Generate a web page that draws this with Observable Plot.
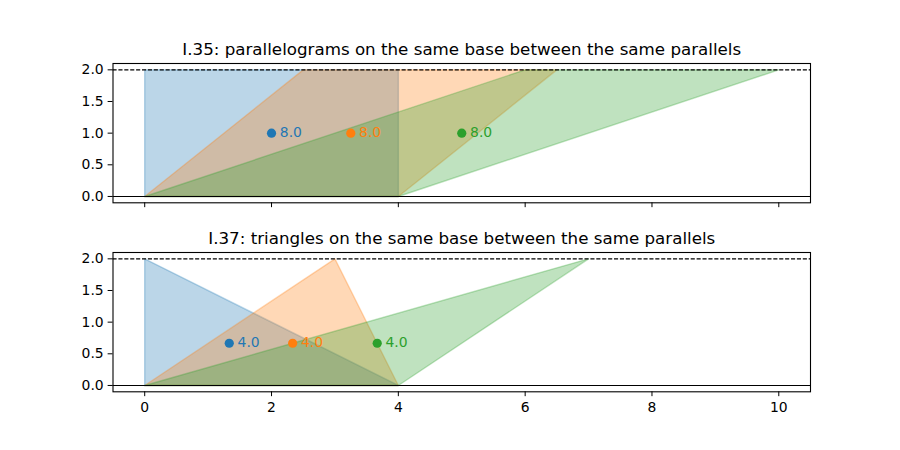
<!DOCTYPE html>
<html>
<head>
<meta charset="utf-8">
<script src="https://cdn.jsdelivr.net/npm/d3@7"></script>
<script src="https://cdn.jsdelivr.net/npm/@observablehq/plot@0.6"></script>
<style>
  html, body { margin: 0; padding: 0; background: #fff; }
  #wrap { position: relative; width: 900px; height: 450px; overflow: hidden; }
  #wrap svg { position: absolute; left: 0; font-family: "DejaVu Sans", sans-serif; }
</style>
</head>
<body>
<div id="wrap"></div>
<script>
// ---- data ----
const colors = ["#1f77b4", "#ff7f0e", "#2ca02c"];
const xTicks = [0, 2, 4, 6, 8, 10];
const yTicks = [0, 0.5, 1, 1.5, 2];

const topTitle = "I.35: parallelograms on the same base between the same parallels";
const paraXs = [[0, 4, 4, 0], [0, 4, 6.5, 2.5], [0, 4, 10, 6]];
const paraYs = [0, 0, 2, 2];
const paraCx = [2, 3.25, 5];
const paraCy = [1, 1, 1];
const paraLabels = ["8.0", "8.0", "8.0"];

const botTitle = "I.37: triangles on the same base between the same parallels";
const triXs = [[0, 4, 0], [0, 4, 3], [0, 4, 7]];
const triYs = [0, 0, 2];
const triCx = [1.3333, 2.3333, 3.6667];
const triCy = [0.6667, 0.6667, 0.6667];
const triLabels = ["4.0", "4.0", "4.0"];

const parallels = [0, 2];

function panel({height, mt, mb, title, xs, ys, cx, cy, labels, showXLabels}) {
  const marks = [];
  xs.forEach((vx, i) => {
    const pts = vx.map((x, j) => ({x, y: ys[j]}));
    pts.push(pts[0]);
    marks.push(Plot.line(pts, {
      x: "x", y: "y", fill: colors[i], fillOpacity: 0.3,
      stroke: colors[i], strokeOpacity: 0.3, strokeWidth: 1.39
    }));
  });
  marks.push(Plot.ruleY([parallels[0]], {stroke: "black", strokeWidth: 1.1}));
  marks.push(Plot.ruleY([parallels[1]], {stroke: "black", strokeWidth: 1.1, strokeDasharray: "4.1,1.8"}));
  const pts = cx.map((x, i) => ({x, y: cy[i], c: colors[i], t: labels[i]}));
  marks.push(Plot.dot(pts, {x: "x", y: "y", r: 4.6, fill: d => d.c, stroke: null}));
  marks.push(Plot.text(pts, {x: "x", y: "y", text: "t", fill: d => d.c, dx: 8.3, dy: -0.8, textAnchor: "start", fontSize: 13.9}));
  marks.push(Plot.frame({stroke: "black", strokeWidth: 1.1}));
  marks.push(Plot.axisY({ticks: yTicks, tickFormat: d3.format(".1f"), tickSize: 4.86, tickPadding: 4.5, fontSize: 13.9, label: null}));
  marks.push(Plot.axisX({ticks: xTicks, tickSize: 4.86, tickPadding: 5, fontSize: 13.9, label: null,
    tickFormat: showXLabels ? (d => String(d)) : (() => "")}));
  marks.push(Plot.text([title], {text: d => d, frameAnchor: "top", dy: -8.3, lineAnchor: "bottom", fontSize: 16.7, fill: "black"}));
  return Plot.plot({
    width: 900, height,
    marginLeft: 112.5, marginRight: 90, marginTop: mt, marginBottom: mb,
    x: {domain: [-0.5, 10.5]},
    y: {domain: [-0.1, 2.1]},
    style: {fontFamily: "DejaVu Sans, sans-serif", fontSize: "13.9px", background: "white", overflow: "visible"},
    marks
  });
}

const wrap = document.getElementById("wrap");
const top1 = panel({height: 225, mt: 63, mb: 22.7, title: topTitle, xs: paraXs, ys: paraYs,
  cx: paraCx, cy: paraCy, labels: paraLabels, showXLabels: false});
top1.style.top = "0px";
wrap.appendChild(top1);
const bot = panel({height: 225, mt: 27, mb: 58.7, title: botTitle, xs: triXs, ys: triYs,
  cx: triCx, cy: triCy, labels: triLabels, showXLabels: true});
bot.style.top = "225px";
wrap.appendChild(bot);
</script>
</body>
</html>
